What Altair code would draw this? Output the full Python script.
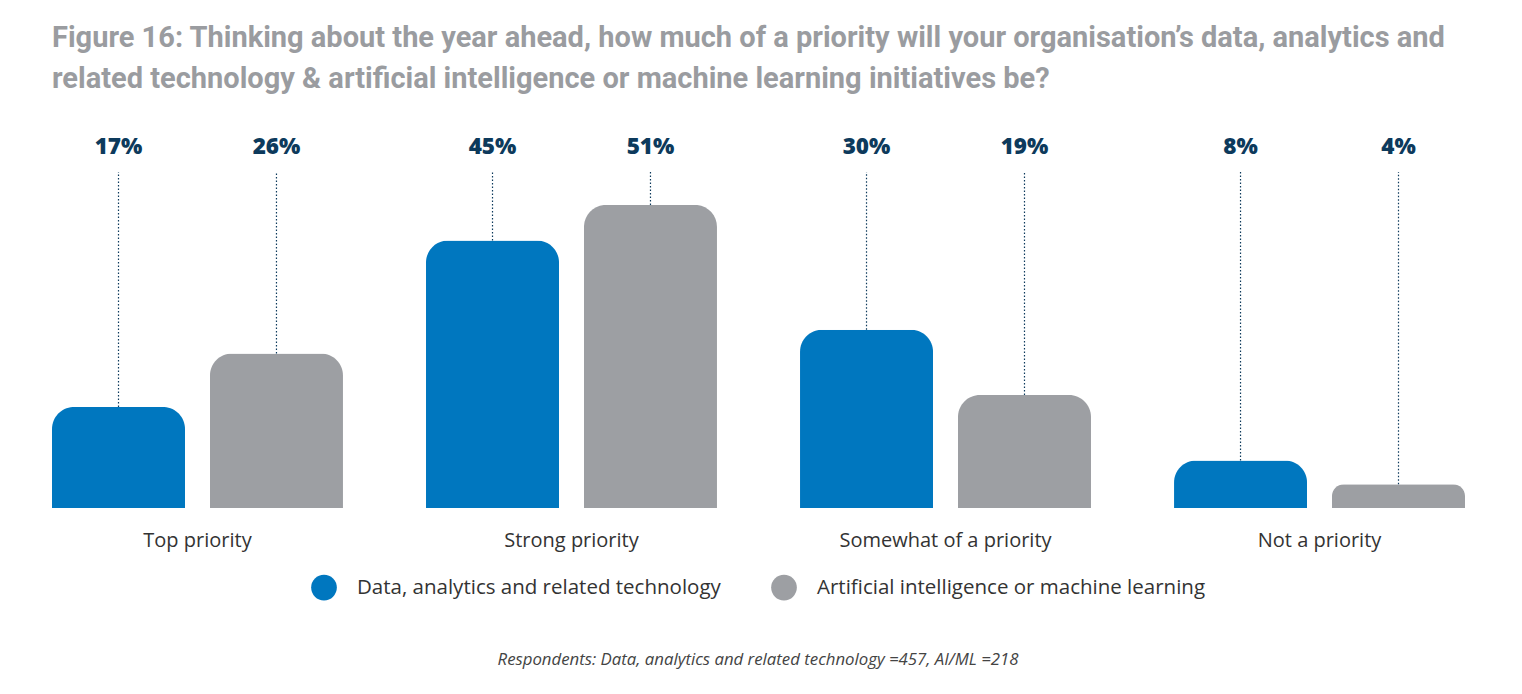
import altair as alt
import pandas as pd

categories = ["Top priority", "Strong priority", "Somewhat of a priority", "Not a priority"]
series = ["Data, analytics and related technology", "Artificial intelligence or machine learning"]
data_values = [17, 45, 30, 8]
aiml_values = [26, 51, 19, 4]
colors = ["#0077BF", "#9D9FA3"]

title_text = ("Figure 16: Thinking about the year ahead, how much of a priority will your organisation\u2019s data, analytics and\n"
              "related technology & artificial intelligence or machine learning initiatives be?")
footnote = "Respondents: Data, analytics and related technology =457, AI/ML =218"

rows = []
for c, a, b in zip(categories, data_values, aiml_values):
    rows.append({"category": c, "series": series[0], "value": a, "label": f"{a}%"})
    rows.append({"category": c, "series": series[1], "value": b, "label": f"{b}%"})
df = pd.DataFrame(rows)
cat_df = pd.DataFrame({"category": categories})

x = alt.X("category:N", sort=categories, axis=None,
          scale=alt.Scale(paddingInner=0.222, paddingOuter=0))
xo = alt.XOffset("series:N", sort=series,
                 scale=alt.Scale(paddingInner=0.158, paddingOuter=0))
y = alt.Y("value:Q", axis=None, scale=alt.Scale(domain=[0, 63.6]))
color = alt.Color("series:N", sort=series,
                  scale=alt.Scale(domain=series, range=colors),
                  legend=alt.Legend(orient="none", legendX=259, legendY=444.5,
                                    direction="horizontal", title=None,
                                    symbolType="circle", symbolSize=660,
                                    symbolStrokeWidth=0, labelFontSize=20.5,
                                    labelFont="Open Sans", labelColor="#333333",
                                    labelOffset=20, columnPadding=50,
                                    labelLimit=0, padding=0))

base = alt.Chart(df)
bars = base.mark_bar(cornerRadiusTopLeft=22, cornerRadiusTopRight=22).encode(
    x=x, xOffset=xo, y=y, color=color)
rules = base.mark_rule(color="#0D3A5C", strokeDash=[1.5, 2], strokeWidth=1.2).encode(
    x=x, xOffset=xo, y=y, y2=alt.value(42))
labels = base.mark_text(font="Open Sans", fontWeight=800, fontSize=22.5,
                        color="#0D3A5C", baseline="middle").encode(
    x=x, xOffset=xo, y=alt.value(17), text="label:N")
cat_labels = alt.Chart(cat_df).mark_text(font="Open Sans", fontSize=20,
                                         color="#333333", baseline="middle").encode(
    x=x, y=alt.value(411), text="category:N")
title = alt.Chart(pd.DataFrame({"t": [title_text]})).mark_text(
    font="Roboto", fontWeight="bold", fontSize=29, color="#9A9CA0",
    align="left", baseline="middle", lineBreak="\n", lineHeight=41).encode(
    x=alt.value(0), y=alt.value(-92), text="t:N")
foot = alt.Chart(pd.DataFrame({"t": [footnote]})).mark_text(
    font="Open Sans", fontStyle="italic", fontSize=16.8, color="#444444",
    align="center", baseline="middle").encode(
    x=alt.value(706), y=alt.value(530), text="t:N")

chart = alt.layer(bars, rules, labels, cat_labels, title, foot).properties(
    width=1413, height=378,
    autosize=alt.AutoSizeParams(type="none"),
    padding={"left": 44, "top": 122, "right": 49, "bottom": 172},
).configure_view(stroke=None)

chart.save("out.html", embed_options={"renderer": "svg", "actions": False})
